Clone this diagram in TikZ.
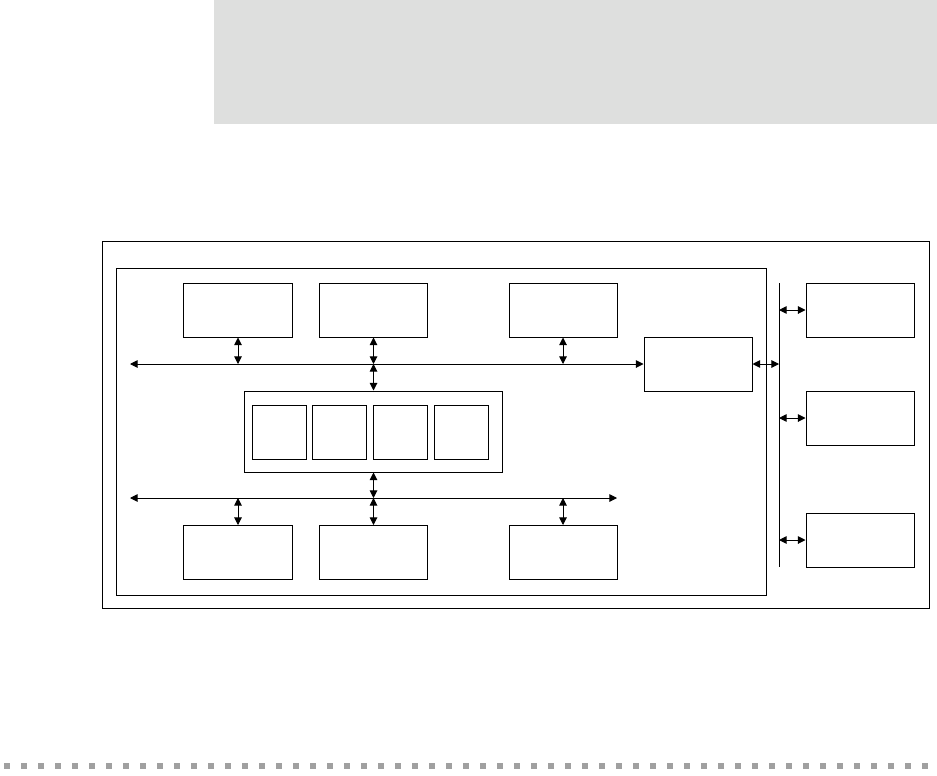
\documentclass[tikz,border=0pt]{standalone}
\usepackage{xcolor}
\usepackage{tikz}
\usetikzlibrary{arrows.meta, positioning, calc}
\definecolor{bandgray}{RGB}{222, 223, 222}
\definecolor{dotgray}{RGB}{160, 160, 160}

\begin{document}
\begin{tikzpicture}[
  x=0.025cm, y=-0.025cm,
  blk/.style={draw, line width=0.7pt, inner sep=0pt, minimum width=2.7cm, minimum height=1.35cm},
  cell/.style={draw, line width=0.7pt, inner sep=0pt, minimum size=1.35cm},
  frame/.style={draw, line width=0.7pt, inner sep=0pt},
  bus/.style={line width=0.7pt, {Triangle[length=0.19cm, width=0.19cm]}-{Triangle[length=0.19cm, width=0.19cm]}},
]
  \useasboundingbox (0,0) rectangle (937,775);

  % Header band
  \fill[bandgray] (214,0) rectangle (937,124);

  % Frames
  \node[frame, minimum width=20.65cm, minimum height=9.15cm] (outer) at (516,425) {};
  \node[frame, minimum width=16.225cm, minimum height=8.15cm] (inner) at (441.5,432) {};

  % Upper blocks
  \node[blk] (top1) at (238,310) {};
  \node[blk] (top2) at (373.5,310) {};
  \node[blk] (top3) at (563,310) {};
  \node[blk] (bridge) at (698,364) {};

  % Core with four cells
  \node[frame, minimum width=6.425cm, minimum height=2.025cm] (core) at (373.5,431.5) {};
  \node[cell] (cell1) at (279,432) {};
  \node[cell] (cell2) at (339.5,432) {};
  \node[cell] (cell3) at (400.5,432) {};
  \node[cell] (cell4) at (461,432) {};

  % Lower blocks
  \node[blk] (bot1) at (238,552.5) {};
  \node[blk] (bot2) at (373.5,552.5) {};
  \node[blk] (bot3) at (563,552.5) {};

  % Right side blocks
  \node[blk] (ext1) at (860,310) {};
  \node[blk] (ext2) at (860,418) {};
  \node[blk] (ext3) at (860,540) {};

  % Bus end points
  \coordinate (busAw) at (130,364);
  \coordinate (busBw) at (130,498);
  \coordinate (busBe) at (617,498);
  \coordinate (busRn) at (779,283);
  \coordinate (busRs) at (779,567);

  % Upper bus
  \draw[bus] (busAw) -- (bridge.west);
  \draw[bus] (top1.south) -- (top1.south |- busAw);
  \draw[bus] (top2.south) -- (top2.south |- busAw);
  \draw[bus] (top3.south) -- (top3.south |- busAw);
  \draw[bus] (core.north |- busAw) -- (core.north);

  % Lower bus
  \draw[bus] (busBw) -- (busBe);
  \draw[bus] (core.south) -- (core.south |- busBw);
  \draw[bus] (bot1.north |- busBw) -- (bot1.north);
  \draw[bus] (bot2.north |- busBw) -- (bot2.north);
  \draw[bus] (bot3.north |- busBw) -- (bot3.north);

  % Right bus
  \draw[line width=0.7pt] (busRn) -- (busRs);
  \draw[bus] (bridge.east) -- (bridge.east -| busRn);
  \draw[bus] (ext1.west -| busRn) -- (ext1.west);
  \draw[bus] (ext2.west -| busRn) -- (ext2.west);
  \draw[bus] (ext3.west -| busRn) -- (ext3.west);

  % Dotted rule
  \draw[dotgray, line width=0.15cm, dash pattern=on 0.14cm off 0.285cm] (4,766) -- (937,766);
\end{tikzpicture}
\end{document}
